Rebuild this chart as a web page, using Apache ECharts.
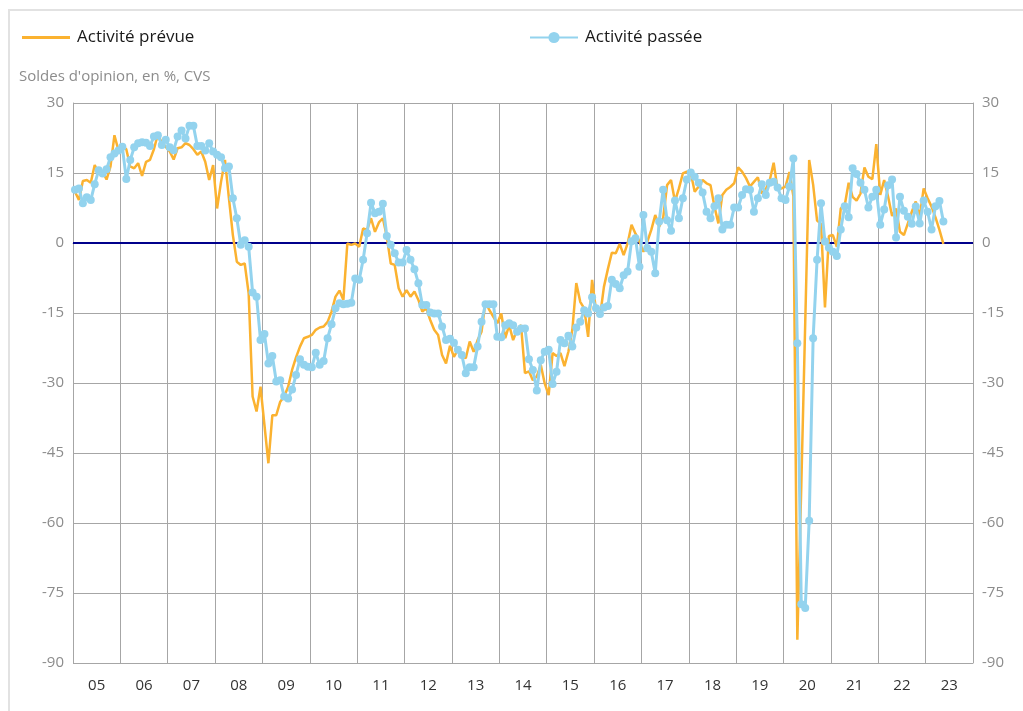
<!DOCTYPE html>
<html><head><meta charset="utf-8">
<script src="https://cdn.jsdelivr.net/npm/echarts@6/dist/echarts.min.js"></script>
<style>html,body{margin:0;padding:0;background:#fff}#c{width:1023px;height:711px}</style>
</head><body><div id="c"></div>
<script>
const years = ['05','06','07','08','09','10','11','12','13','14','15','16','17','18','19','20','21','22','23'];
const months = [];
for (let y = 2005; y <= 2023; y++) for (let m = 1; m <= 12; m++) months.push(y + '-' + (m < 10 ? '0' : '') + m);

const seriesNames = ['Activité prévue', 'Activité passée'];

const prevue = [
  11.0, 9.2, 13.3, 13.5, 12.9, 16.7, 14.9, 15.3, 13.6, 16.4, 23.1, 19.9,
  20.6, 20.1, 16.4, 16.0, 17.1, 14.4, 17.4, 17.8, 20.1, 23.3, 21.5, 20.6,
  19.6, 17.9, 20.3, 20.5, 21.4, 21.0, 20.1, 18.9, 19.6, 17.4, 13.5, 16.7,
  7.4, 13.1, 17.8, 9.6, 1.7, -4.0, -4.7, -4.4, -10.8, -32.9, -36.1, -30.8,
  -39.0, -47.2, -36.9, -36.9, -34.0, -32.9, -30.8, -27.2, -24.5, -22.2, -20.4, -20.1,
  -19.7, -18.6, -18.1, -17.9, -16.9, -14.7, -11.5, -10.2, -12.2, -0.1, -0.4, -0.1,
  -0.8, 3.1, 2.8, 5.3, 2.4, 4.4, 5.3, 1.4, -4.4, -4.7, -9.7, -11.5,
  -10.1, -11.5, -10.4, -12.2, -14.7, -14.0, -16.5, -18.6, -19.7, -24.0, -25.8, -22.0,
  -24.4, -22.9, -24.0, -24.7, -21.1, -23.3, -20.8, -19.0, -12.6, -14.4, -15.8, -17.2,
  -15.1, -20.4, -17.6, -20.8, -18.6, -17.6, -27.9, -27.5, -29.4, -28.6, -26.1, -30.1,
  -32.6, -23.6, -24.2, -23.6, -26.4, -23.3, -18.6, -8.6, -12.6, -14.0, -20.1, -7.9,
  -14.4, -15.8, -9.4, -5.6, -2.1, -2.2, -0.2, -2.6, -0.1, 3.9, 2.0, 0.3,
  -1.9, 0.3, 2.8, 6.0, 3.5, 5.3, 12.4, 13.5, 8.9, 11.7, 14.9, 15.3,
  15.0, 11.0, 12.1, 13.5, 12.8, 12.4, 7.8, 4.2, 10.3, 11.4, 12.0, 12.8,
  16.2, 15.3, 13.9, 12.1, 13.1, 14.1, 10.6, 11.5, 13.4, 17.2, 11.4, 11.7,
  12.1, 15.2, 10.0, -85.0, -52.0, -17.0, 17.8, 12.5, 4.8, 4.1, -13.8, 1.5,
  1.7, -0.8, 7.4, 8.1, 12.9, 9.9, 9.1, 10.6, 16.2, 14.2, 13.7, 21.2,
  10.3, 13.5, 9.9, 5.8, 7.4, 2.4, 1.7, 4.2, 6.7, 8.9, 5.6, 11.7,
  9.6, 7.8, 5.5, 2.8, -0.2
];

const passee = [
  11.4, 11.7, 8.5, 9.8, 9.2, 12.6, 15.6, 14.9, 15.8, 18.4, 19.2, 19.8,
  20.6, 13.7, 17.8, 20.5, 21.4, 21.6, 21.5, 20.8, 22.8, 23.1, 21.0, 22.1,
  20.5, 19.9, 22.8, 24.1, 22.4, 25.1, 25.1, 20.8, 20.8, 19.8, 21.4, 19.6,
  18.9, 18.4, 16.0, 16.4, 9.6, 5.3, -0.4, 0.6, -0.8, -10.6, -11.5, -20.8,
  -19.5, -25.8, -24.2, -29.7, -29.4, -32.9, -33.3, -31.4, -28.3, -24.9, -26.1, -26.5,
  -26.6, -23.5, -26.1, -25.3, -20.4, -17.4, -14.0, -12.9, -13.1, -13.0, -12.8, -7.6,
  -7.9, -3.6, 2.1, 8.6, 6.4, 6.7, 8.4, 1.5, -0.4, -2.2, -4.2, -4.2,
  -1.5, -3.6, -5.6, -8.6, -13.3, -13.3, -14.9, -15.1, -15.1, -17.9, -20.8, -20.5,
  -21.4, -22.9, -24.0, -27.9, -26.6, -26.6, -22.2, -16.9, -13.1, -13.1, -13.1, -20.1,
  -20.2, -17.6, -17.2, -17.6, -19.0, -18.3, -18.3, -24.9, -27.2, -31.6, -25.1, -23.3,
  -22.9, -30.2, -27.6, -20.8, -21.5, -19.9, -22.2, -18.1, -16.9, -14.4, -15.1, -11.6,
  -14.0, -15.2, -13.8, -13.5, -7.9, -8.8, -9.7, -6.9, -6.1, 0.4, 1.0, -5.1,
  6.0, -1.1, -1.9, -6.5, 4.6, 11.4, 4.9, 2.6, 9.1, 5.3, 9.6, 13.6,
  15.1, 14.2, 12.9, 10.8, 6.7, 5.3, 7.9, 9.6, 2.9, 3.9, 3.9, 7.6,
  7.6, 10.3, 11.5, 11.4, 6.7, 9.6, 12.6, 10.3, 12.9, 13.1, 11.9, 9.6,
  9.2, 12.1, 18.1, -21.5, -77.4, -78.2, -59.5, -20.4, -3.6, 8.5, 0.3, -1.0,
  -1.9, -2.8, 2.9, 7.9, 5.5, 16.0, 14.8, 12.9, 11.4, 7.6, 9.9, 11.4,
  3.9, 7.2, 12.4, 13.6, 1.2, 9.9, 6.9, 5.6, 4.1, 7.8, 4.2, 9.1,
  6.7, 2.9, 7.9, 9.0, 4.6
];

const gridGray = '#a6a6a6';
const orange = '#FBB230';
const blue = '#93D3EE';
const font = '"Open Sans", "Noto Sans", sans-serif';

const chart = echarts.init(document.getElementById('c'), null, {renderer: 'canvas'});
chart.setOption({
  animation: false,
  backgroundColor: '#fff',
  textStyle: {fontFamily: font},
  graphic: [
    {type: 'rect', silent: true, shape: {x: 9, y: 10, width: 1100, height: 800},
     style: {fill: 'none', stroke: '#e2e2e2', lineWidth: 2}},
    {type: 'text', left: 19, top: 69, silent: true,
     style: {text: "Soldes d'opinion, en %, CVS", fill: '#8c8c8c', font: '15px ' + font}}
  ],
  legend: [
    {data: [seriesNames[0]], left: 17, top: 24, icon: 'rect', itemWidth: 48, itemHeight: 3, itemGap: 13,
     textStyle: {fontSize: 17, color: '#1a1a1a', fontFamily: font, padding: [0, 0, 0, 2]}},
    {data: [seriesNames[1]], left: 524, top: 24, itemWidth: 48, itemHeight: 14, itemGap: 13,
     textStyle: {fontSize: 17, color: '#1a1a1a', fontFamily: font, padding: [0, 0, 0, 2]}}
  ],
  grid: {left: 73, right: 50, top: 103, bottom: 48, containLabel: false},
  xAxis: [
    {type: 'category', data: years, boundaryGap: true, position: 'bottom',
     axisLine: {show: true, lineStyle: {color: gridGray, width: 1}},
     axisTick: {show: true, length: 32, interval: 0, lineStyle: {color: gridGray}},
     axisLabel: {show: true, interval: 0, color: '#333', fontSize: 15, margin: 15, fontFamily: font},
     splitLine: {show: true, interval: 0, lineStyle: {color: gridGray, width: 1}}},
    {type: 'category', data: months, boundaryGap: true, show: false}
  ],
  yAxis: [
    {type: 'value', min: -90, max: 30, interval: 15, position: 'left',
     axisLine: {show: true, lineStyle: {color: gridGray}},
     axisTick: {show: false},
     axisLabel: {color: '#8c8c8c', fontSize: 15, margin: 9, fontFamily: font},
     splitLine: {show: true, lineStyle: {color: gridGray, width: 1}}},
    {type: 'value', min: -90, max: 30, interval: 15, position: 'right',
     axisLine: {show: true, lineStyle: {color: gridGray}},
     axisTick: {show: false},
     axisLabel: {color: '#8c8c8c', fontSize: 15, margin: 9, fontFamily: font},
     splitLine: {show: false}}
  ],
  series: [
    {name: seriesNames[0], type: 'line', xAxisIndex: 1, yAxisIndex: 0, data: prevue,
     symbol: 'none', showSymbol: false, z: 3,
     lineStyle: {color: orange, width: 2.5}, itemStyle: {color: orange},
     markLine: {silent: true, symbol: 'none', label: {show: false}, z: 2,
       lineStyle: {color: '#00008B', width: 2, type: 'solid'}, data: [{yAxis: 0}]}},
    {name: seriesNames[1], type: 'line', xAxisIndex: 1, yAxisIndex: 0, data: passee,
     symbol: 'circle', symbolSize: 8, showSymbol: true, showAllSymbol: true, z: 4,
     lineStyle: {color: blue, width: 3}, itemStyle: {color: blue}}
  ]
});
</script>
</body></html>
